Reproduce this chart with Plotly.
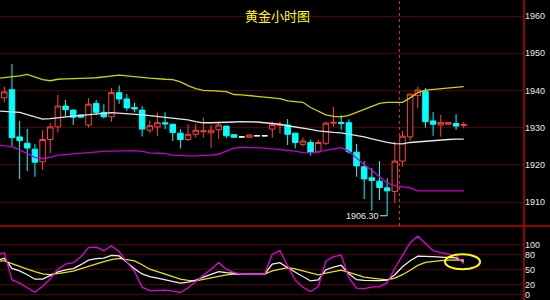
import plotly.graph_objects as go

# ---------------- data ----------------
title_text = "黄金小时图"

opens = [1938.0, 1940.2, 1927.5, 1925.8, 1924.2, 1920.8, 1926.8, 1930.2, 1935.8, 1934.7,
         1933.4, 1930.7, 1936.5, 1934.1, 1932.9, 1939.4, 1937.7, 1935.4, 1934.7, 1929.3,
         1930.2, 1931.3, 1930.9, 1928.5, 1926.8, 1928.2, 1928.9, 1928.6, 1929.4, 1930.4,
         1928.1, 1927.5, 1927.4, 1927.8, 1927.8, 1929.6, 1930.6, 1930.7, 1928.5, 1925.5,
         1926.0, 1923.5, 1925.8, 1931.2, 1931.4, 1931.3, 1923.4, 1919.5, 1916.5, 1915.6,
         1913.8, 1912.8, 1921.0, 1927.5, 1938.6, 1939.8, 1931.8, 1930.7, 1930.9, 1931.1, 1930.6]
highs = [1941.0, 1947.1, 1931.8, 1929.6, 1925.6, 1929.3, 1931.2, 1938.8, 1937.4, 1934.9,
         1933.5, 1937.9, 1937.4, 1936.3, 1940.7, 1941.3, 1939.0, 1936.7, 1935.8, 1931.9,
         1934.0, 1934.1, 1931.0, 1929.6, 1930.9, 1930.9, 1932.7, 1930.7, 1931.3, 1930.5,
         1928.1, 1927.5, 1928.0, 1927.8, 1927.8, 1931.6, 1931.6, 1932.3, 1928.6, 1927.3,
         1926.7, 1926.7, 1931.6, 1935.6, 1933.4, 1932.2, 1925.6, 1921.0, 1919.1, 1921.0,
         1916.4, 1926.2, 1929.1, 1939.0, 1941.0, 1940.6, 1934.2, 1933.4, 1931.4, 1933.6, 1931.5]
lows = [1936.8, 1924.9, 1916.2, 1918.3, 1916.8, 1918.6, 1923.1, 1928.7, 1932.8, 1930.7,
        1932.6, 1930.0, 1933.4, 1932.5, 1931.6, 1936.4, 1934.5, 1934.1, 1927.6, 1928.5,
        1927.7, 1929.6, 1926.4, 1924.4, 1926.4, 1927.3, 1927.3, 1924.6, 1926.9, 1927.1,
        1927.4, 1927.5, 1927.4, 1927.8, 1927.8, 1927.3, 1928.4, 1925.3, 1924.4, 1924.9,
        1922.5, 1923.1, 1925.3, 1930.2, 1929.4, 1923.0, 1916.8, 1910.8, 1907.7, 1910.5,
        1906.3, 1909.8, 1919.5, 1926.5, 1935.2, 1930.0, 1927.8, 1927.5, 1930.9, 1929.4, 1929.8]
closes = [1939.6, 1927.3, 1926.5, 1924.5, 1920.7, 1926.8, 1930.2, 1935.8, 1934.8, 1932.8,
          1932.8, 1936.3, 1934.1, 1932.9, 1939.4, 1937.7, 1935.3, 1935.0, 1929.6, 1930.5,
          1931.3, 1931.0, 1928.7, 1926.8, 1928.2, 1929.3, 1929.1, 1929.3, 1930.7, 1927.8,
          1927.4, 1927.5, 1928.0, 1927.8, 1927.8, 1930.8, 1930.8, 1928.2, 1926.0, 1926.4,
          1923.4, 1926.0, 1931.2, 1931.4, 1931.1, 1923.5, 1919.7, 1916.2, 1915.8, 1913.9,
          1913.0, 1921.0, 1927.7, 1939.0, 1940.1, 1931.6, 1930.9, 1931.4, 1931.4, 1930.4, 1930.8]

# Bollinger bands, first value belongs to the bar just before the visible window
boll_upper = [1943.2, 1943.4, 1943.7, 1943.9, 1944.3, 1943.7, 1942.9, 1942.6, 1943.0, 1943.1,
              1943.1, 1943.1, 1943.3, 1943.4, 1943.6, 1943.9, 1944.1, 1943.9, 1943.8, 1943.5,
              1943.3, 1943.1, 1943.0, 1942.9, 1942.3, 1941.3, 1940.5, 1940.0, 1939.8, 1939.8,
              1939.7, 1938.9, 1938.8, 1938.6, 1938.4, 1938.2, 1938.0, 1937.8, 1937.2, 1937.0,
              1936.8, 1935.4, 1934.3, 1933.4, 1933.0, 1932.9, 1933.3, 1934.1, 1935.0, 1935.9,
              1936.5, 1936.8, 1936.8, 1936.8, 1938.0, 1939.4, 1940.1, 1940.3, 1940.4, 1940.6,
              1940.8, 1941.0]
boll_mid = [1934.5, 1934.4, 1934.3, 1934.1, 1933.5, 1932.9, 1932.3, 1932.4, 1932.7, 1932.9,
            1933.1, 1933.3, 1933.4, 1933.5, 1933.8, 1934.0, 1933.9, 1933.7, 1933.6, 1933.4,
            1933.2, 1933.0, 1932.8, 1932.6, 1932.4, 1932.1, 1931.6, 1931.3, 1931.3, 1931.3,
            1931.3, 1931.5, 1931.6, 1931.6, 1931.5, 1931.3, 1931.2, 1930.9, 1930.5, 1930.2,
            1930.0, 1929.5, 1929.1, 1928.8, 1928.7, 1928.6, 1928.3, 1927.9, 1927.5, 1927.0,
            1926.4, 1926.0, 1925.7, 1925.6, 1926.0, 1926.2, 1926.4, 1926.6, 1926.7, 1926.8,
            1926.9, 1926.9]
boll_lower = [1925.3, 1925.2, 1924.9, 1924.0, 1923.0, 1922.0, 1921.7, 1922.0, 1922.6, 1922.8,
              1923.0, 1923.1, 1923.3, 1923.4, 1923.6, 1923.7, 1923.8, 1923.8, 1923.8, 1923.6,
              1923.2, 1923.1, 1923.0, 1922.6, 1922.4, 1922.4, 1922.4, 1922.4, 1922.6, 1922.9,
              1923.6, 1924.5, 1924.7, 1924.7, 1924.6, 1924.5, 1924.3, 1924.1, 1923.9, 1923.7,
              1923.3, 1923.2, 1923.5, 1924.0, 1924.3, 1924.6, 1923.7, 1921.8, 1920.0, 1918.5,
              1916.7, 1915.1, 1914.4, 1914.2, 1913.8, 1913.0, 1913.0, 1913.0, 1913.0, 1913.0,
              1913.0, 1913.0]

# KDJ oscillator
kdj_k = [69, 72.8, 52.5, 47.5, 40, 31, 31, 38.5, 45.5, 49.7,
         52, 60, 69, 72, 73, 78.7, 77.5, 65, 52, 41.5,
         36, 33, 30, 26.5, 23, 25, 29, 35, 40.5, 46,
         44, 42, 41.4, 41.4, 41.4, 41.4, 61, 64, 54, 45,
         35, 27.5, 29.5, 50, 55, 59, 42, 30, 28.5, 27.5,
         28, 29, 40, 56, 68, 77, 77, 76, 75, 74.5,
         73.5, 66]
kdj_d = [68, 67.5, 62, 56, 51, 46, 41.5, 40, 41.5, 44.5,
         47, 52, 57, 62, 66, 70, 72.5, 70, 67.5, 60,
         51, 46, 41.5, 37, 31, 28.5, 27.5, 30.5, 34, 37,
         39.5, 41, 41.4, 41.4, 41.4, 41.4, 47.5, 51, 54, 51.5,
         48, 44.5, 39.5, 43, 46.5, 49, 44.5, 39.5, 35, 33,
         31, 29.5, 33, 40, 49, 58.5, 64.5, 67, 68, 69,
         69.4, 69.4]
kdj_j = [80, 84, 30, 23, 14, 5, 17, 32, 51, 61,
         64, 76, 94, 95, 88, 98, 86, 65, 47, 15,
         8, 8.5, 9, 7, 4.5, 14, 26, 38, 51, 64,
         51, 44, 41.4, 41.4, 41.4, 41.4, 81, 88, 58, 29,
         15, 6.5, 16, 67, 76, 79, 34, 13, 12, 15,
         16, 24, 53, 80, 104, 117, 103, 88, 84, 81,
         78, 62]

price_ticks = [1910, 1920, 1930, 1940, 1950, 1960]
osc_ticks = [0, 20, 50, 80, 100]
low_label = "1906.30"
low_value = 1906.30
session_break = 51.6

# ---------------- styles ----------------
RED = "#FF4040"
CYAN = "#00FFFF"
GRID = "#520000"
BORDER = "#C80000"
LABEL = "#E4EAF4"

n = len(opens)
bars = list(range(n))
line_x = list(range(-1, n))

def subset(cond):
    idx = [i for i in bars if cond(opens[i], closes[i])]
    return dict(x=idx, open=[opens[i] for i in idx], high=[highs[i] for i in idx],
                low=[lows[i] for i in idx], close=[closes[i] for i in idx])

fig = go.Figure()

for cond, lc, fc in [
    (lambda o, c: c > o, RED, "#000000"),
    (lambda o, c: c < o, CYAN, CYAN),
    (lambda o, c: c == o, "#FFFFFF", "#FFFFFF"),
]:
    d = subset(cond)
    fig.add_trace(go.Candlestick(
        **d, xaxis="x", yaxis="y", whiskerwidth=0,
        increasing=dict(line=dict(color=lc, width=1), fillcolor=fc),
        decreasing=dict(line=dict(color=lc, width=1), fillcolor=fc),
        hoverinfo="skip", showlegend=False))

for vals, col in [(boll_upper, "#D2D200"), (boll_mid, "#E6E6E6"), (boll_lower, "#C800C8")]:
    fig.add_trace(go.Scatter(x=line_x, y=vals, mode="lines", xaxis="x", yaxis="y",
                             line=dict(color=col, width=1.3), hoverinfo="skip", showlegend=False))

for vals, col in [(kdj_d, "#E6E600"), (kdj_k, "#F0F0F0"), (kdj_j, "#E000E0")]:
    fig.add_trace(go.Scatter(x=line_x, y=vals, mode="lines", xaxis="x2", yaxis="y2",
                             line=dict(color=col, width=1.3), hoverinfo="skip", showlegend=False))

W, H = 550, 300
x_right = 524 / W
split = (H - 226) / H
xr = [-0.562, 67.87]

axis_font = dict(family="Liberation Sans, Arial, sans-serif", size=9, color=LABEL)

fig.update_layout(
    width=W, height=H,
    margin=dict(l=0, r=0, t=0, b=0),
    paper_bgcolor="#000000", plot_bgcolor="#000000",
    showlegend=False, boxgap=0.2, boxgroupgap=0.1,
    xaxis=dict(domain=[0, x_right], range=xr, visible=False,
               rangeslider=dict(visible=False), anchor="y"),
    xaxis2=dict(domain=[0, x_right], range=xr, visible=False, anchor="y2"),
    yaxis=dict(domain=[split, 1], range=[1903.55, 1964.3], side="right", anchor="x",
               tickmode="array", tickvals=price_ticks, ticktext=[str(v) for v in price_ticks],
               showgrid=True, gridcolor=GRID, gridwidth=1, zeroline=False, showline=False,
               ticks="", tickfont=axis_font, fixedrange=True),
    yaxis2=dict(domain=[0, split], range=[-10.6, 137.4], side="right", anchor="x2",
                tickmode="array", tickvals=osc_ticks, ticktext=[str(v) for v in osc_ticks],
                showgrid=True, gridcolor=GRID, gridwidth=1, zeroline=True,
                zerolinecolor=GRID, zerolinewidth=1, showline=False,
                ticks="", tickfont=axis_font, fixedrange=True),
    shapes=[
        dict(type="line", xref="paper", yref="paper", x0=0, x1=1, y0=split, y1=split,
             line=dict(color=BORDER, width=1.5)),
        dict(type="line", xref="paper", yref="paper", x0=x_right, x1=x_right, y0=0, y1=1,
             line=dict(color=BORDER, width=1.5)),
        dict(type="line", xref="x", yref="paper", x0=session_break, x1=session_break,
             y0=split, y1=1, line=dict(color="#E03030", width=1, dash="dot")),
        dict(type="circle", xref="x2", yref="y2", x0=57.55, x1=62.13, y0=50.8, y1=80.8,
             line=dict(color="#FFFF00", width=2)),
    ],
    annotations=[
        dict(text=title_text, xref="paper", yref="paper", x=277 / W, y=1 - 15 / H,
             showarrow=False, xanchor="center", yanchor="middle",
             font=dict(family="Noto Sans CJK SC", size=13, color="#FFFF00")),
        dict(text=low_label, xref="x", yref="y", x=lows.index(low_value), y=low_value,
             showarrow=True, arrowhead=0, arrowwidth=1, arrowcolor="#E0E0E0",
             ax=-25, ay=0, standoff=0,
             font=dict(family="Liberation Sans, Arial, sans-serif", size=9, color=LABEL)),
    ],
)

fig.write_html("out.html")
